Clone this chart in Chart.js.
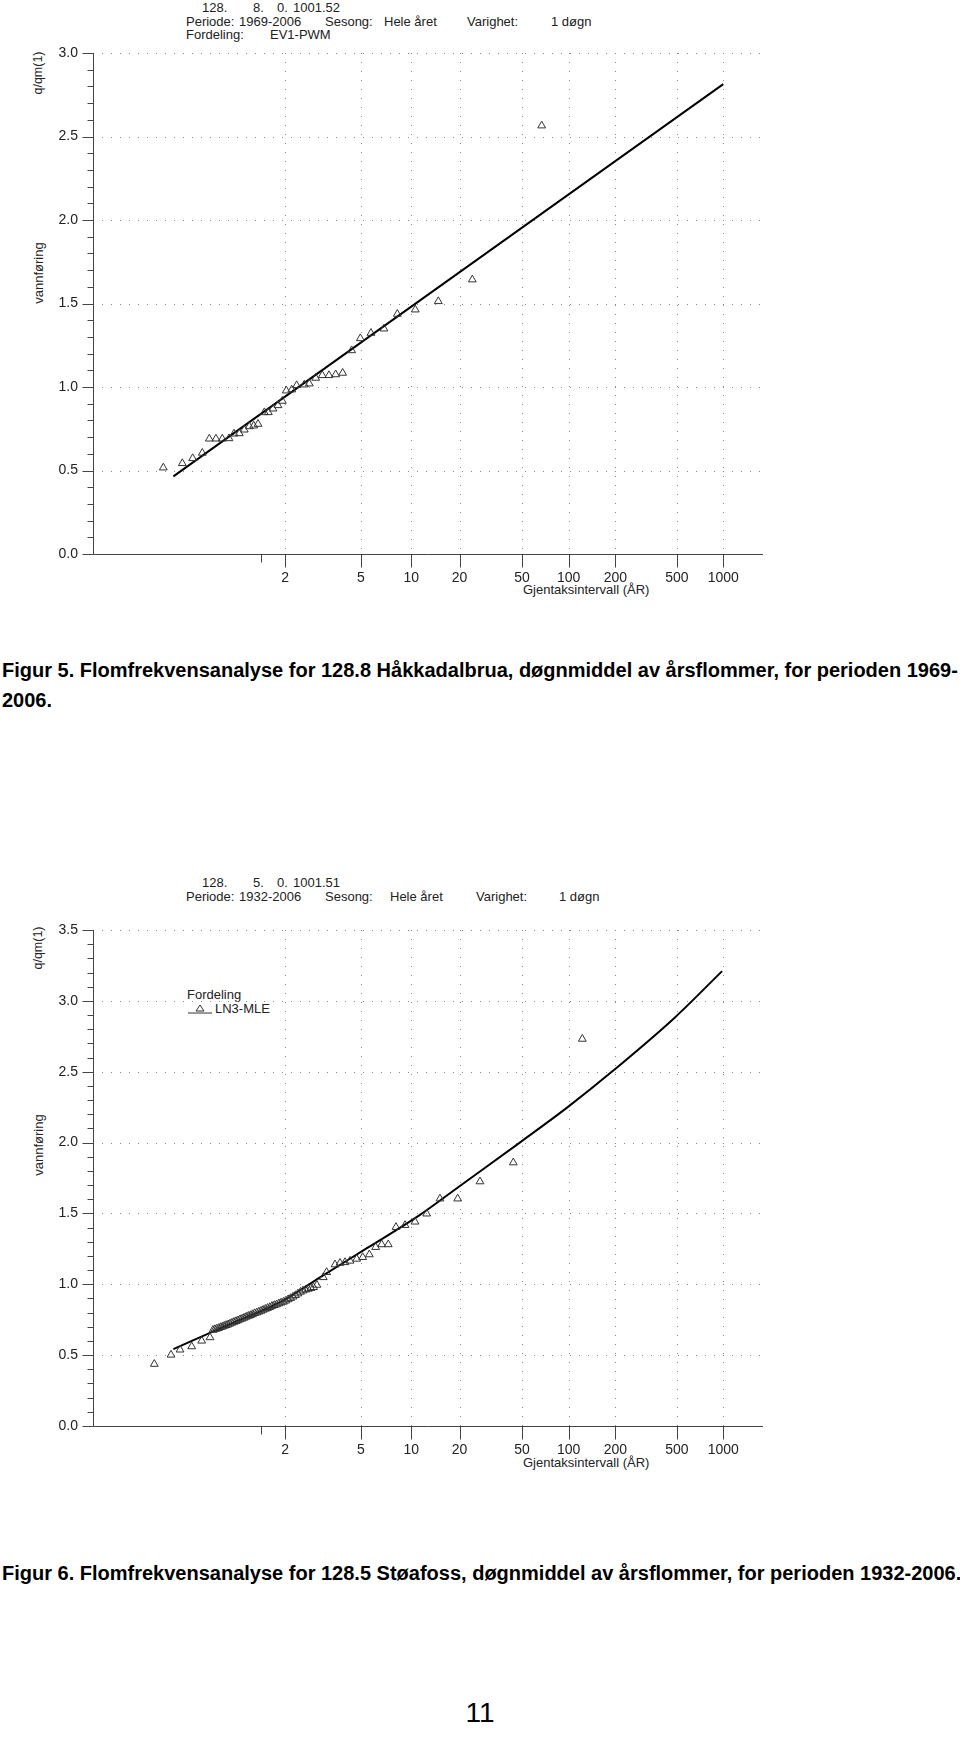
<!DOCTYPE html>
<html>
<head>
<meta charset="utf-8">
<script src="https://cdn.jsdelivr.net/npm/chart.js@4.4.1/dist/chart.umd.min.js"></script>
<style>
body { margin: 0; background: #fff; width: 960px; height: 1757px; position: relative; overflow: hidden; font-family: "Liberation Sans", Arial, sans-serif; }
canvas { position: absolute; left: 0; }
.t { position: absolute; font-size: 13px; line-height: 14px; color: #222; white-space: nowrap; }
.rot { position: absolute; font-size: 12.5px; color: #222; white-space: nowrap; transform: translate(-50%, -50%) rotate(-90deg); }
.narrow { font-family: "Liberation Sans Narrow", "Liberation Sans", sans-serif; font-size: 13px; }
.cap { position: absolute; left: 2px; font-weight: bold; font-size: 20px; color: #000; white-space: nowrap; line-height: 22px; }
</style>
</head>
<body>

<!-- Figur 5 header -->
<div class="t" style="left:202px;top:1px">128.</div>
<div class="t" style="left:253px;top:1px">8.</div>
<div class="t" style="left:277px;top:1px">0.</div>
<div class="t" style="left:293px;top:1px">1001.52</div>
<div class="t" style="left:186px;top:15px">Periode:</div>
<div class="t" style="left:239px;top:15px">1969-2006</div>
<div class="t" style="left:325px;top:15px">Sesong:</div>
<div class="t" style="left:384px;top:15px">Hele året</div>
<div class="t" style="left:467px;top:15px">Varighet:</div>
<div class="t" style="left:551px;top:15px">1 døgn</div>
<div class="t" style="left:186px;top:28px">Fordeling:</div>
<div class="t" style="left:270px;top:28px">EV1-PWM</div>
<div class="rot" style="left:38px;top:73px">q/qm(1)</div>
<div class="rot narrow" style="left:38px;top:273px">vannføring</div>
<div class="t" style="left:523px;top:583px">Gjentaksintervall (ÅR)</div>
<canvas id="chartHakka" width="960" height="620" style="top:0px"></canvas>

<div class="cap" style="top:659px">Figur 5. Flomfrekvensanalyse for 128.8 Håkkadalbrua, døgnmiddel av årsflommer, for perioden 1969-</div>
<div class="cap" style="top:689px">2006.</div>

<!-- Figur 6 header -->
<div class="t" style="left:202px;top:876px">128.</div>
<div class="t" style="left:253px;top:876px">5.</div>
<div class="t" style="left:277px;top:876px">0.</div>
<div class="t" style="left:293px;top:876px">1001.51</div>
<div class="t" style="left:186px;top:890px">Periode:</div>
<div class="t" style="left:239px;top:890px">1932-2006</div>
<div class="t" style="left:325px;top:890px">Sesong:</div>
<div class="t" style="left:390px;top:890px">Hele året</div>
<div class="t" style="left:476px;top:890px">Varighet:</div>
<div class="t" style="left:559px;top:890px">1 døgn</div>
<div class="rot" style="left:38px;top:948px">q/qm(1)</div>
<div class="rot narrow" style="left:38px;top:1145px">vannføring</div>
<div class="t" style="left:187px;top:988px">Fordeling</div>
<svg style="position:absolute;left:186px;top:1002px" width="30" height="16">
  <polyline points="2,11 26,11" stroke="#333" stroke-width="1" fill="none"/>
  <polygon points="14,3 18,9 10,9" stroke="#333" stroke-width="1" fill="none"/>
</svg>
<div class="t" style="left:215px;top:1002px">LN3-MLE</div>
<div class="t" style="left:523px;top:1456px">Gjentaksintervall (ÅR)</div>
<canvas id="chartStoa" width="960" height="620" style="top:860px"></canvas>

<div class="cap" style="top:1562px">Figur 6. Flomfrekvensanalyse for 128.5 Støafoss, døgnmiddel av årsflommer, for perioden 1932-2006.</div>
<div style="position:absolute;left:0;width:960px;top:1697px;text-align:center;font-size:28px;line-height:32px;color:#000">11</div>

<script>
// return periods shown on the x axis (Gumbel paper)
const xTickPeriods = [2, 5, 10, 20, 50, 100, 200, 500, 1000];
const xTickLabels = ['2', '5', '10', '20', '50', '100', '200', '500', '1000'];

// 128.8 Håkkadalbrua, 1969-2006 (x = Gumbel reduced variate, y = q/qm)
const hakkaReduced = [-1.451, -1.167, -1.012, -0.869, -0.764, -0.665, -0.570, -0.470, -0.396, -0.316,
  -0.242, -0.167, -0.101, -0.037, 0.057, 0.117, 0.187, 0.261, 0.326, 0.385,
  0.466, 0.540, 0.654, 0.728, 0.824, 0.922, 1.022, 1.122, 1.226, 1.360,
  1.490, 1.649, 1.843, 2.042, 2.310, 2.654, 3.161, 4.197];
const hakkaRatio = [0.517, 0.543, 0.573, 0.605, 0.690, 0.690, 0.690, 0.692, 0.720, 0.722,
  0.744, 0.764, 0.768, 0.778, 0.848, 0.848, 0.870, 0.890, 0.916, 0.978,
  0.984, 1.010, 1.014, 1.020, 1.054, 1.070, 1.070, 1.075, 1.084, 1.219,
  1.291, 1.323, 1.349, 1.437, 1.463, 1.513, 1.643, 2.565];
// EV1-PWM fitted line
const hakkaFitReduced = [-1.30, 6.907];
const hakkaFitRatio = [0.465, 2.814];

// 128.5 Støafoss, 1932-2006
const stoaReduced = [-1.585, -1.336, -1.201, -1.027, -0.878, -0.754,
  -0.710, -0.682, -0.654, -0.626, -0.598, -0.570, -0.541, -0.512, -0.483, -0.454,
  -0.425, -0.395, -0.365, -0.335, -0.305, -0.275, -0.244, -0.213, -0.182, -0.151,
  -0.120, -0.088, -0.056, -0.024, 0.008, 0.040, 0.073, 0.106, 0.139, 0.172,
  0.206, 0.240, 0.274, 0.308, 0.343, 0.378, 0.413, 0.449, 0.485, 0.522,
  0.559, 0.597, 0.635, 0.674, 0.713, 0.752, 0.792,
  0.842, 0.937, 0.987, 1.112, 1.187, 1.261, 1.336, 1.436, 1.525, 1.624,
  1.719, 1.809, 1.907, 2.022, 2.157, 2.306, 2.481, 2.679, 2.943, 3.276, 3.773, 4.803];
const stoaRatio = [0.437, 0.502, 0.538, 0.561, 0.601, 0.625,
  0.677, 0.682, 0.686, 0.690, 0.697, 0.700, 0.706, 0.711, 0.716, 0.722,
  0.728, 0.734, 0.739, 0.745, 0.752, 0.757, 0.763, 0.770, 0.776, 0.781,
  0.788, 0.795, 0.800, 0.806, 0.812, 0.819, 0.826, 0.832, 0.838, 0.846,
  0.852, 0.857, 0.864, 0.870, 0.876, 0.884, 0.893, 0.902, 0.912, 0.922,
  0.934, 0.946, 0.955, 0.962, 0.967, 0.972, 0.979,
  0.995, 1.049, 1.085, 1.139, 1.150, 1.155, 1.165, 1.179, 1.191, 1.210,
  1.262, 1.281, 1.281, 1.403, 1.417, 1.441, 1.498, 1.604, 1.604, 1.725, 1.859, 2.731];
// LN3-MLE fitted curve
const stoaFitReduced = [-1.30, -0.5, 0.35, 0.84, 1.6, 2.38, 2.95, 3.87, 4.585, 5.27, 6.19, 6.89];
const stoaFitRatio = [0.543, 0.710, 0.888, 1.035, 1.258, 1.490, 1.685, 2.000, 2.250, 2.510, 2.885, 3.210];

// Gumbel reduced variate for a return period
function gumbel(T) {
  return -Math.log(-Math.log(1 - 1 / T));
}

function toPoints(xs, ys) {
  return xs.map((x, i) => ({ x: x, y: ys[i] }));
}

// dotted grid, axis lines and tick marks
const plotFrame = {
  id: 'plotFrame',
  beforeDatasetsDraw(chart) {
    const { ctx, chartArea: a, scales: { x, y } } = chart;
    ctx.save();
    ctx.strokeStyle = '#8c8c8c';
    ctx.lineWidth = 1;
    ctx.setLineDash([1, 8]);
    ctx.beginPath();
    y.ticks.forEach(t => {
      if (t.value <= y.min) return;
      const py = Math.round(y.getPixelForValue(t.value)) + 0.5;
      ctx.moveTo(a.left, py);
      ctx.lineTo(a.right, py);
    });
    x.ticks.forEach(t => {
      const px = Math.round(x.getPixelForValue(t.value)) + 0.5;
      ctx.moveTo(px, a.top);
      ctx.lineTo(px, a.bottom);
    });
    ctx.stroke();
    ctx.restore();
  },
  afterDraw(chart) {
    const { ctx, chartArea: a, scales: { x, y } } = chart;
    const l = Math.round(a.left) + 0.5;
    const b = Math.round(a.bottom) + 0.5;
    ctx.save();
    ctx.strokeStyle = '#444';
    ctx.lineWidth = 1;
    ctx.beginPath();
    ctx.moveTo(l, Math.round(a.top));
    ctx.lineTo(l, b);
    ctx.lineTo(a.right, b);
    for (let k = 0; k <= Math.round(y.max * 10); k++) {
      const py = Math.round(y.getPixelForValue(k / 10)) + 0.5;
      const len = k % 5 === 0 ? 11 : 6;
      ctx.moveTo(l - len, py);
      ctx.lineTo(l, py);
    }
    x.ticks.forEach(t => {
      const px = Math.round(x.getPixelForValue(t.value)) + 0.5;
      ctx.moveTo(px, b);
      ctx.lineTo(px, b + 13);
    });
    const p0 = Math.round(x.getPixelForValue(0)) + 0.5;
    ctx.moveTo(p0, b);
    ctx.lineTo(p0, b + 8);
    ctx.stroke();
    ctx.restore();
  }
};

function floodChart(canvasId, cfg) {
  return new Chart(document.getElementById(canvasId), {
    type: 'scatter',
    data: {
      datasets: [
        {
          data: cfg.obs,
          pointStyle: 'triangle',
          pointRadius: 4.5,
          borderColor: '#333',
          backgroundColor: 'rgba(0,0,0,0)',
          borderWidth: 1,
          showLine: false
        },
        {
          data: cfg.fit,
          showLine: true,
          pointRadius: 0,
          borderColor: '#000',
          borderWidth: 2,
          cubicInterpolationMode: 'monotone'
        }
      ]
    },
    options: {
      responsive: false,
      animation: false,
      devicePixelRatio: 1,
      layout: { padding: { left: 0, right: 197, top: cfg.top, bottom: 0 } },
      plugins: { legend: { display: false }, tooltip: { enabled: false } },
      scales: {
        x: {
          type: 'linear',
          min: -2.5,
          max: 7.5,
          afterBuildTicks: s => { s.ticks = xTickPeriods.map(T => ({ value: gumbel(T) })); },
          afterFit: s => { s.height = cfg.xAxisHeight; },
          grid: { display: false, drawTicks: false },
          border: { display: false },
          ticks: {
            autoSkip: false,
            maxRotation: 0,
            padding: 16,
            color: '#222',
            font: { family: 'Liberation Sans', size: 14 },
            callback: (v, i) => xTickLabels[i]
          }
        },
        y: {
          min: 0,
          max: cfg.yMax,
          afterFit: s => { s.width = 93; },
          grid: { display: false, drawTicks: false },
          border: { display: false },
          ticks: {
            stepSize: 0.5,
            padding: 15,
            color: '#222',
            font: { family: 'Liberation Sans', size: 14 },
            callback: v => v.toFixed(1)
          }
        }
      }
    },
    plugins: [plotFrame]
  });
}

floodChart('chartHakka', {
  obs: toPoints(hakkaReduced, hakkaRatio),
  fit: toPoints(hakkaFitReduced, hakkaFitRatio),
  yMax: 3.0,
  top: 53,
  xAxisHeight: 66
});

floodChart('chartStoa', {
  obs: toPoints(stoaReduced, stoaRatio),
  fit: toPoints(stoaFitReduced, stoaFitRatio),
  yMax: 3.5,
  top: 70,
  xAxisHeight: 54
});
</script>
</body>
</html>
